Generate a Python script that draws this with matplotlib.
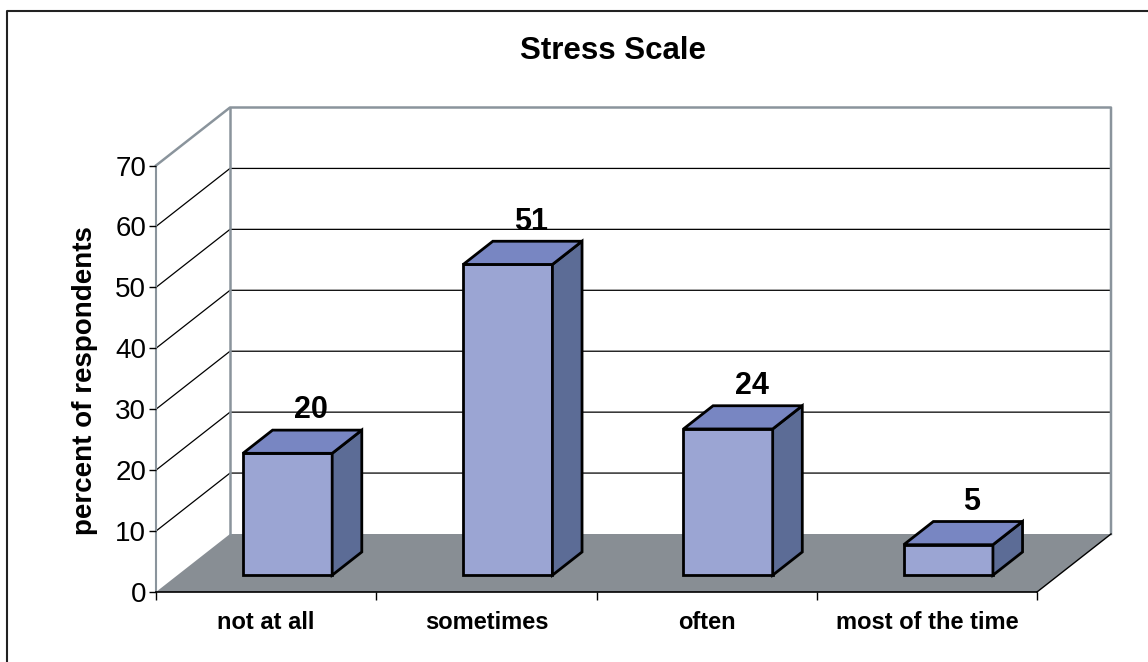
import matplotlib
matplotlib.use('Agg')
import matplotlib.pyplot as plt
from matplotlib.lines import Line2D
from matplotlib.patches import Polygon

categories = ['not at all', 'sometimes', 'often', 'most of the time']
values = [20, 51, 24, 5]
y_ticks = [0, 10, 20, 30, 40, 50, 60, 70]

W, H = 1148, 662
# front plane of the chart box, in pixels
LEFT, RIGHT, BOTTOM, TOP = 156, 1037, 592, 165.5
# how far the back wall is shifted from the front plane, in data units
SHIFT_X = 74 / ((RIGHT - LEFT) / 4)
SHIFT_Y = 58 / ((BOTTOM - TOP) / 70)

BAR_WIDTH = 0.405
BAR_NEAR = 0.29   # bar front, as a fraction of the depth
BAR_FAR = 0.69    # bar back
LABEL_DEPTH = 0.61

GREY = '#8a949c'
FLOOR = '#888e94'
FRONT = '#9ba5d3'
TOP_FACE = '#7886c2'
SIDE = '#5c6c96'

plt.rcParams['font.family'] = ['Liberation Sans', 'DejaVu Sans']


def proj(x, y, depth):
    """Shift a front plane point back by depth (0 front, 1 back wall)."""
    return (x + depth * SHIFT_X, y + depth * SHIFT_Y)


def face(ax, pts, color, edge='black', lw=2.0, zorder=3):
    ax.add_patch(Polygon(pts, closed=True, facecolor=color, edgecolor=edge,
                         linewidth=lw, joinstyle='miter', clip_on=False, zorder=zorder))


fig = plt.figure(figsize=(W / 100, H / 100), dpi=100)
ax = fig.add_axes([LEFT / W, 1 - BOTTOM / H, (RIGHT - LEFT) / W, (BOTTOM - TOP) / H])
ax.set_xlim(0, 4)
ax.set_ylim(0, 70)
ax.patch.set_visible(False)

# floor
floor = [proj(0, 0, 0), proj(4, 0, 0), proj(4, 0, 1), proj(0, 0, 1)]
ax.add_patch(Polygon(floor, closed=True, facecolor=FLOOR, edgecolor='none', clip_on=False, zorder=1))
ax.plot(*zip(proj(4, 0, 0), proj(4, 0, 1)), color='black', lw=1, clip_on=False, zorder=1.5)

# gridlines on the side wall and back wall
for t in y_ticks[1:-1]:
    pts = [proj(0, t, 0), proj(0, t, 1), proj(4, t, 1)]
    ax.plot(*zip(*pts), color='black', lw=0.9, clip_on=False, zorder=1.2)

# wall outline
outline = [proj(0, 70, 0), proj(0, 70, 1), proj(4, 70, 1), proj(4, 0, 1)]
ax.plot(*zip(*outline), color=GREY, lw=1.8, clip_on=False, zorder=1.3)
ax.plot(*zip(proj(0, 70, 1), proj(0, 0, 1)), color=GREY, lw=1.8, clip_on=False, zorder=1.3)

# bars
for i, v in enumerate(values):
    x0 = i + 0.5 - BAR_WIDTH / 2
    x1 = i + 0.5 + BAR_WIDTH / 2
    face(ax, [proj(x0, 0, BAR_NEAR), proj(x1, 0, BAR_NEAR), proj(x1, v, BAR_NEAR), proj(x0, v, BAR_NEAR)], FRONT)
    face(ax, [proj(x1, 0, BAR_NEAR), proj(x1, 0, BAR_FAR), proj(x1, v, BAR_FAR), proj(x1, v, BAR_NEAR)], SIDE)
    face(ax, [proj(x0, v, BAR_NEAR), proj(x1, v, BAR_NEAR), proj(x1, v, BAR_FAR), proj(x0, v, BAR_FAR)], TOP_FACE)
    lx, ly = proj(i + 0.5, v, LABEL_DEPTH)
    ax.text(lx, ly + 4.0, str(v), ha='center', va='center', fontsize=22, fontweight='bold', zorder=4)

# axes
for s in ['top', 'right']:
    ax.spines[s].set_visible(False)
ax.spines['left'].set_color(GREY)
ax.spines['left'].set_linewidth(1.5)
ax.spines['bottom'].set_color('black')
ax.spines['bottom'].set_linewidth(1.2)
ax.spines['left'].set_zorder(1.4)
ax.spines['bottom'].set_zorder(1.4)
ax.set_yticks(y_ticks)
ax.tick_params(axis='y', labelsize=20, length=5, width=1, pad=2)
ax.set_xticks(range(5))
ax.set_xticklabels([])
ax.tick_params(axis='x', length=6, width=1)
ax.set_xticks([i + 0.5 for i in range(4)], categories, minor=True, fontsize=17, fontweight='bold')
ax.tick_params(axis='x', which='minor', length=0, pad=14)

fig.text(613 / W, 1 - 51 / H, 'Stress Scale', ha='center', va='center', fontsize=22.5, fontweight='bold')
fig.text(85 / W, 1 - 381 / H, 'percent of respondents', ha='center', va='center',
         rotation=90, fontsize=20, fontweight='bold')

# chart frame, only the top and left edges are inside the picture
fx = 6.5 / W
fy = 1 - 10.5 / H
fig.add_artist(Line2D([fx, fx, 1], [0, fy, fy], transform=fig.transFigure, color='#222222', linewidth=1.5))

fig.savefig('out.png', dpi=100)
